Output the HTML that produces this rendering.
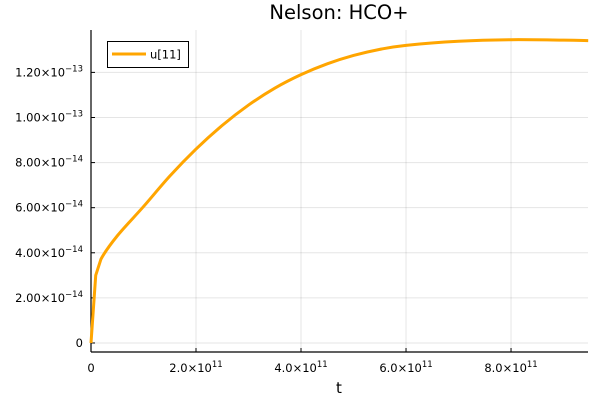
<!DOCTYPE html>
<html><head><meta charset="utf-8"><style>
html,body{margin:0;padding:0;background:#fff;}
svg{display:block;font-family:"DejaVu Sans","Liberation Sans",sans-serif;}
</style></head><body>
<svg id="chart" width="600" height="400" viewBox="0 0 600 400">
<rect width="600" height="400" fill="#fff"/>
<text x="339" y="19" font-size="19.5" text-anchor="middle" fill="#000">Nelson: HCO+</text>
<g id="grid"></g>
<g id="axes"></g>
<g id="series"></g>
<text x="339" y="393" font-size="15" text-anchor="middle" fill="#000">t</text>
<g>
<rect x="107.5" y="41.5" width="81" height="26" fill="#fff" stroke="#000" stroke-width="1"/>
<line x1="112" y1="54" x2="146" y2="54" stroke="#FFA500" stroke-width="3"/>
<text x="150" y="58.5" font-size="11.5" fill="#000">u[11]</text>
</g>
</svg>
<script>
const tValues = [0, 0.9e10, 1.9e10, 5e10, 1e11, 1.5e11, 2e11, 2.5e11, 3e11, 3.5e11, 4e11, 4.5e11, 5e11, 5.5e11, 6e11, 7e11, 8e11, 9e11, 9.47e11];
const uValues = [0, 3.0e-14, 3.72e-14, 4.75e-14, 6.05e-14, 7.4e-14, 8.6e-14, 9.65e-14, 1.055e-13, 1.13e-13, 1.19e-13, 1.238e-13, 1.275e-13, 1.302e-13, 1.32e-13, 1.338e-13, 1.345e-13, 1.343e-13, 1.341e-13];
const xTicks = [0, 2e11, 4e11, 6e11, 8e11];
const xTickLabels = ["0", "2.0×10", "4.0×10", "6.0×10", "8.0×10"];
const xTickExps = ["", "11", "11", "11", "11"];
const yTicks = [0, 2e-14, 4e-14, 6e-14, 8e-14, 1e-13, 1.2e-13];
const yTickLabels = ["0", "2.00×10", "4.00×10", "6.00×10", "8.00×10", "1.00×10", "1.20×10"];
const yTickExps = ["", "−14", "−14", "−14", "−14", "−13", "−13"];

const L=91,R=588,T=30,B=352;
const xMin=0,xMax=9.466e11,yMin=-0.4e-14,yMax=1.388e-13;
function sx(v){return L+(v-xMin)/(xMax-xMin)*(R-L);}
function sy(v){return B-(v-yMin)/(yMax-yMin)*(B-T);}
const NS="http://www.w3.org/2000/svg";
function mk(tag,attrs,parent){const e=document.createElementNS(NS,tag);for(const k in attrs)e.setAttribute(k,attrs[k]);parent.appendChild(e);return e;}
const grid=document.getElementById('grid'),axes=document.getElementById('axes'),series=document.getElementById('series');

xTicks.forEach((v,i)=>{
  const x=sx(v);
  const g=mk('line',{x1:x,y1:T,x2:x,y2:B,stroke:'#000','stroke-opacity':0.1,'stroke-width':1},grid);
  
  
  const tk=mk('line',{x1:x,y1:B,x2:x,y2:B-4,stroke:'#000','stroke-width':1},axes);
  
  
  const t=mk('text',{x:x,y:B+20,'font-size':11.5,'text-anchor':'middle',fill:'#000'},axes);
  
  
  t.textContent=xTickLabels[i];
  if(xTickExps[i]){const s=mk('tspan',{dy:-5,'font-size':8.5},t);s.textContent=xTickExps[i];}
});
yTicks.forEach((v,i)=>{
  const y=sy(v);
  const g=mk('line',{x1:L,y1:y,x2:R,y2:y,stroke:'#000','stroke-opacity':0.1,'stroke-width':1},grid);
  
  
  const tk=mk('line',{x1:L,y1:y,x2:L+4,y2:y,stroke:'#000','stroke-width':1},axes);
  
  
  const t=mk('text',{x:L-8,y:y+4,'font-size':11.5,'text-anchor':'end',fill:'#000'},axes);
  
  
  t.textContent=yTickLabels[i];
  if(yTickExps[i]){const s=mk('tspan',{dy:-5,'font-size':8.5},t);s.textContent=yTickExps[i];}
});
const xa=mk('line',{x1:L,y1:B,x2:R,y2:B,stroke:'#000','stroke-width':1.2},axes);


const ya=mk('line',{x1:L,y1:T,x2:L,y2:B,stroke:'#000','stroke-width':1.2},axes);



const pts=tValues.map((t,i)=>[sx(t),sy(uValues[i])]);
let d='M'+pts[0][0]+','+pts[0][1];
for(let i=0;i<pts.length-1;i++){
  const p0=pts[i],p1=pts[i+1];
  if(i<2){d+=' L'+p1[0]+','+p1[1];continue;}
  const pm=pts[i-1],pp=pts[i+2]||p1;
  const c1=[p0[0]+(p1[0]-pm[0])/6,p0[1]+(p1[1]-pm[1])/6];
  const c2=[p1[0]-(pp[0]-p0[0])/6,p1[1]-(pp[1]-p0[1])/6];
  d+=' C'+c1[0]+','+c1[1]+' '+c2[0]+','+c2[1]+' '+p1[0]+','+p1[1];
}
const line=mk('path',{d:d,fill:'none',stroke:'#FFA500','stroke-width':3,'stroke-linejoin':'round'},series);


</script>
</body></html>
